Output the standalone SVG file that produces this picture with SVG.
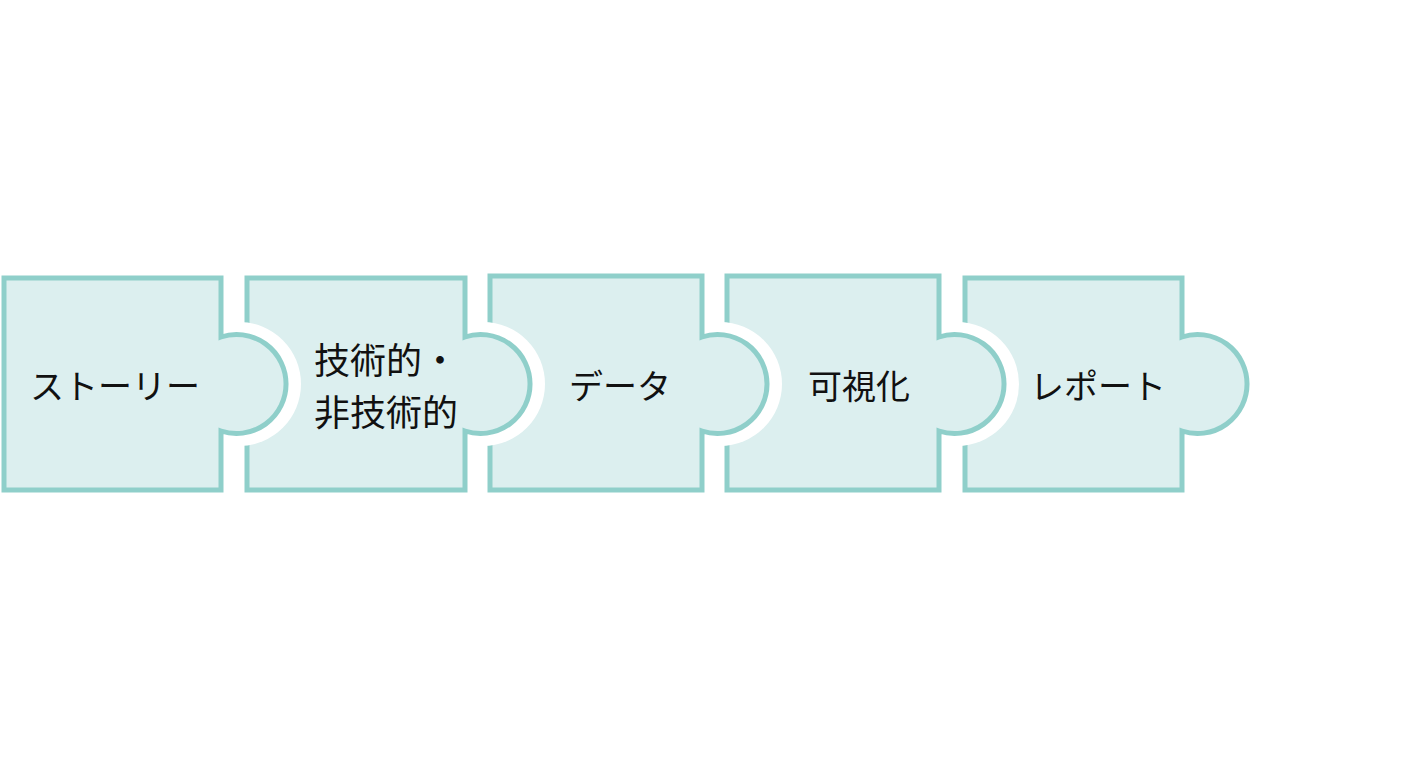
<svg xmlns="http://www.w3.org/2000/svg" width="1408" height="768" viewBox="0 0 1408 768">
<style>
.piece{fill:#dcefef;stroke:#8fcfca;stroke-width:5;stroke-linejoin:miter}
.halo{fill:#ffffff}
.lbl{font-family:"Noto Sans CJK JP","Noto Sans",sans-serif;font-size:34px;fill:#111111;text-anchor:middle;dominant-baseline:central}
.lbl2{font-size:36px}
</style>
<rect width="1408" height="768" fill="#ffffff"/>
<g id="p5">
<path class="piece" d="M965,278 H1182 V337 A49.5,49.5 0 1 1 1182,431 V490 H965 Z"/>
<text class="lbl" x="1098" y="384">レポート</text>
</g>
<g id="p4">
<circle class="halo" cx="957" cy="384" r="62"/>
<path class="piece" d="M727,276 H939 V337 A49.5,49.5 0 1 1 939,431 V490 H727 Z"/>
<text class="lbl" x="859" y="384">可視化</text>
</g>
<g id="p3">
<circle class="halo" cx="720" cy="384" r="62"/>
<path class="piece" d="M490,276 H702 V337 A49.5,49.5 0 1 1 702,431 V490 H490 Z"/>
<text class="lbl" x="620" y="384">データ</text>
</g>
<g id="p2">
<circle class="halo" cx="483" cy="384" r="62"/>
<path class="piece" d="M247,278 H465 V337 A49.5,49.5 0 1 1 465,431 V490 H247 Z"/>
<text class="lbl lbl2" x="386" y="358">技術的・</text>
<text class="lbl lbl2" x="386" y="410">非技術的</text>
</g>
<g id="p1">
<circle class="halo" cx="239" cy="384" r="62"/>
<path class="piece" d="M4,278 H221 V337 A49.5,49.5 0 1 1 221,431 V490 H4 Z"/>
<text class="lbl" x="115" y="384">ストーリー</text>
</g>
<g id="connectors"></g>
</svg>
